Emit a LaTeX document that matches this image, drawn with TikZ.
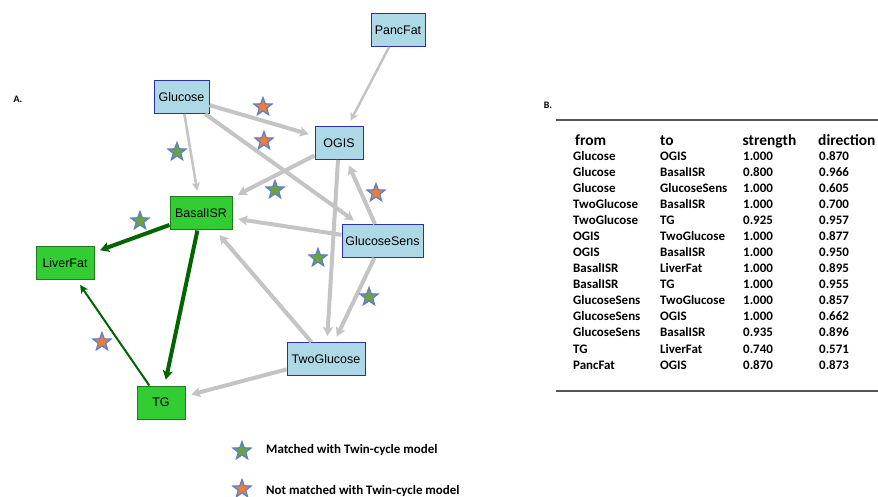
\documentclass[tikz,border=0pt]{standalone}
\usepackage{fontspec}
\setmainfont{Liberation Sans}
\newfontfamily\calfont{Carlito}
\usetikzlibrary{shapes.geometric,arrows.meta}
\definecolor{nodeblue}{HTML}{ADD8E6}
\definecolor{bordblue}{HTML}{2E2EA8}
\definecolor{nodegreen}{HTML}{32CD32}
\definecolor{bordgreen}{HTML}{1E7B1E}
\definecolor{edgegray}{HTML}{C4C4C4}
\definecolor{edgegreen}{HTML}{006400}
\definecolor{starline}{HTML}{5B7FCB}
\definecolor{stargreen}{HTML}{6BA342}
\definecolor{starorange}{HTML}{E87D3E}
\definecolor{rulegray}{HTML}{555555}
\tikzset{
  bnode/.style={draw=bordblue, fill=nodeblue, line width=1bp, minimum height=33bp, inner sep=2bp, font=\fontsize{12.5}{14}\selectfont},
  gnode/.style={draw=bordgreen, fill=nodegreen, line width=1bp, minimum height=33bp, inner sep=2bp, font=\fontsize{12.5}{14}\selectfont},
  grayedge/.style={draw=edgegray, line width=4bp, -{Stealth[length=9bp,width=10bp,inset=2bp]}, shorten >=6bp},
  grayedgethin/.style={draw=edgegray, line width=2.5bp, -{Stealth[length=8bp,width=8bp,inset=2bp]}, shorten >=6bp},
  greenedge/.style={draw=edgegreen, line width=4bp, -{Stealth[length=9bp,width=10bp,inset=2bp]}, shorten >=6bp},
  greenedgethin/.style={draw=edgegreen, line width=2bp, -{Stealth[length=8bp,width=8bp,inset=2bp]}, shorten >=6bp},
  starshape/.style={star, star points=5, star point ratio=2.4, minimum size=19bp, inner sep=0pt, draw=starline, line width=1.2bp},
  starg/.style={starshape, fill=stargreen},
  staro/.style={starshape, fill=starorange},
  cell/.style={anchor=base west, inner sep=0pt, font=\calfont\bfseries\fontsize{13}{15}\selectfont},
  headcell/.style={anchor=base west, inner sep=0pt, font=\calfont\bfseries\fontsize{15.5}{17}\selectfont},
  legendtext/.style={anchor=west, inner sep=0pt, font=\calfont\bfseries\fontsize{13}{15}\selectfont},
  panellabel/.style={inner sep=0pt, font=\calfont\bfseries\fontsize{10}{11}\selectfont}
}
\begin{document}
\begin{tikzpicture}[x=1bp,y=-1bp]
\useasboundingbox[fill=white] (0,0) rectangle (878,497);

% nodes
\node[bnode, minimum width=54bp] (pancfat) at (398,30) {PancFat};
\node[bnode, minimum width=55bp] (glucose) at (181.5,97) {Glucose};
\node[bnode, minimum width=48bp] (ogis) at (339,143) {OGIS};
\node[gnode, minimum width=62bp] (basal) at (201,213.5) {BasalISR};
\node[bnode, minimum width=81bp] (gsens) at (382.5,241) {GlucoseSens};
\node[gnode, minimum width=58bp] (liver) at (65,263) {LiverFat};
\node[gnode, minimum width=48bp] (tg) at (161,402.5) {TG};
\node[bnode, minimum width=78bp] (twog) at (326,359) {TwoGlucose};

% edges
\draw[grayedgethin] (pancfat) -- (ogis);
\draw[grayedge] (glucose) -- (ogis);
\draw[grayedge] (glucose) -- (gsens);
\draw[grayedgethin] (glucose) -- (basal);
\draw[grayedge] (ogis) -- (basal);
\draw[grayedge] (gsens) -- (ogis);
\draw[grayedge] (gsens) -- (basal);
\draw[grayedge] (ogis) -- (twog);
\draw[grayedge] (gsens) -- (twog);
\draw[grayedge] (twog) -- (basal);
\draw[grayedge] (twog) -- (tg);
\draw[greenedge] (basal) -- (liver);
\draw[greenedge] (basal) -- (tg);
\draw[greenedgethin] (tg) -- (liver);

% stars
\node[staro] (s1) at (263,107) {};
\node[staro] (s2) at (264,141) {};
\node[staro] (s3) at (376,193) {};
\node[staro] (s4) at (102,342) {};
\node[starg] (s5) at (177,152) {};
\node[starg] (s6) at (275,190) {};
\node[starg] (s7) at (140,221) {};
\node[starg] (s8) at (318,258) {};
\node[starg] (s9) at (369,297) {};

% legend
\node[starg] (lg) at (242,451) {};
\node[staro] (lo) at (242,489) {};
\node[legendtext] (lgt) at (266,450) {Matched with Twin-cycle model};
\node[legendtext] (lot) at (266,491) {Not matched with Twin-cycle model};

% panel labels
\node[panellabel] (la) at (18,99) {A.};
\node[panellabel] (lb) at (548,105) {B.};

% table
\draw[rulegray, line width=1.5bp] (556,120) coordinate (t1) -- (878,120) coordinate (t2);
\draw[rulegray, line width=1.5bp] (556,391) coordinate (b1) -- (878,391) coordinate (b2);
\node[headcell] (hf) at (575,145.5) {from};
\node[headcell] (ht) at (660,145.5) {to};
\node[headcell] (hs) at (742.5,145.5) {strength};
\node[headcell] (hd) at (818,145.5) {direction};
\foreach \f/\t/\s/\d [count=\i] in {
  Glucose/OGIS/1.000/0.870,
  Glucose/BasalISR/0.800/0.966,
  Glucose/GlucoseSens/1.000/0.605,
  TwoGlucose/BasalISR/1.000/0.700,
  TwoGlucose/TG/0.925/0.957,
  OGIS/TwoGlucose/1.000/0.877,
  OGIS/BasalISR/1.000/0.950,
  BasalISR/LiverFat/1.000/0.895,
  BasalISR/TG/1.000/0.955,
  GlucoseSens/TwoGlucose/1.000/0.857,
  GlucoseSens/OGIS/1.000/0.662,
  GlucoseSens/BasalISR/0.935/0.896,
  TG/LiverFat/0.740/0.571,
  PancFat/OGIS/0.870/0.873}{
  \node[cell] (rf\i) at (573,{145+16*\i}) {\f};
  \node[cell] (rt\i) at (660,{145+16*\i}) {\t};
  \node[cell] (rs\i) at (743,{145+16*\i}) {\s};
  \node[cell] (rd\i) at (819,{145+16*\i}) {\d};
}
\end{tikzpicture}
\end{document}
